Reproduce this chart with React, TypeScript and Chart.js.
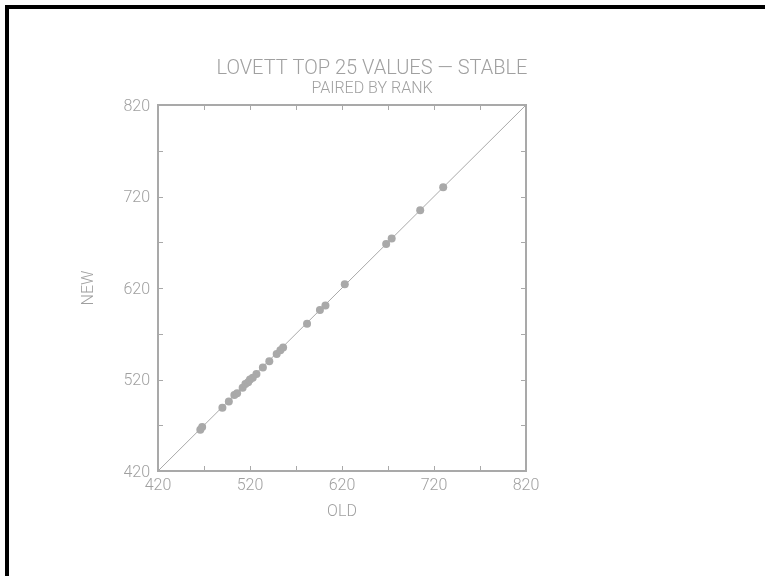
import React, { useEffect, useRef } from 'react';
import { Chart, registerables } from 'chart.js';

Chart.register(...registerables);

const titleText = 'LOVETT TOP 25 VALUES — STABLE';
const subtitleText = 'PAIRED BY RANK';
const xAxisTitle = 'OLD';
const yAxisTitle = 'NEW';
const axisMin = 420;
const axisMax = 820;
const tickStep = 50;
const labelStep = 100;

const oldValues = [466, 468, 490, 497, 503, 506, 512, 515, 518, 520, 523, 527, 534, 541, 549, 553, 556, 582, 596, 602, 623, 668, 674, 705, 730];
const newValues = [465, 468, 489, 496, 503, 505, 511, 515, 517, 520, 522, 526, 533, 540, 548, 552, 555, 581, 596, 601, 624, 668, 674, 705, 730];
const refLine = [420, 820];

const GRAY = '#a9a9a9';
const TEXT = '#a0a0a0';
const FAMILY = 'Roboto';

const boxTicks = {
  id: 'boxTicks',
  afterDatasetsDraw(chart: any) {
    const { ctx, chartArea: a, scales } = chart;
    const xs = scales.x;
    const ys = scales.y;
    const L = 5;
    ctx.save();
    ctx.strokeStyle = GRAY;
    ctx.lineWidth = 1;
    const seg = (x1: number, y1: number, x2: number, y2: number) => {
      ctx.beginPath();
      ctx.moveTo(x1, y1);
      ctx.lineTo(x2, y2);
      ctx.stroke();
    };
    xs.ticks.forEach((t: any) => {
      const px = Math.round(xs.getPixelForValue(t.value)) + 0.5;
      seg(px, a.bottom, px, a.bottom - L);
      seg(px, a.top, px, a.top + L);
    });
    ys.ticks.forEach((t: any) => {
      const py = Math.round(ys.getPixelForValue(t.value)) + 0.5;
      seg(a.left, py, a.left + L, py);
      seg(a.right, py, a.right - L, py);
    });
    ctx.lineWidth = 2;
    ctx.strokeRect(a.left, a.top, a.right - a.left, a.bottom - a.top);
    ctx.restore();
  },
};

const tickLabel = (v: any) => ((Number(v) - axisMin) % labelStep === 0 ? String(v) : '');

export default function App() {
  const ref = useRef<HTMLCanvasElement>(null);
  useEffect(() => {
    if (!ref.current) return;
    const font = { family: FAMILY, weight: '300' as any, size: 16 };
    const chart = new Chart(ref.current, {
      type: 'scatter',
      data: {
        datasets: [
          {
            type: 'line',
            data: refLine.map((v) => ({ x: v, y: v })),
            borderColor: GRAY,
            borderWidth: 1,
            pointRadius: 0,
            fill: false,
          } as any,
          {
            type: 'scatter',
            data: oldValues.map((v, i) => ({ x: v, y: newValues[i] })),
            backgroundColor: GRAY,
            borderWidth: 0,
            pointRadius: 4,
          },
        ],
      },
      options: {
        responsive: false,
        animation: false,
        layout: { padding: { left: 0, right: 21, top: 0, bottom: 0 } },
        plugins: {
          legend: { display: false },
          tooltip: { enabled: false },
          title: {
            display: true,
            text: titleText,
            color: TEXT,
            font: { family: FAMILY, weight: '300' as any, size: 20, lineHeight: 1 },
            padding: { top: 59, bottom: 0 },
          },
          subtitle: {
            display: true,
            text: subtitleText,
            color: TEXT,
            font: { family: FAMILY, weight: '300' as any, size: 16, lineHeight: 1.2 },
            padding: { top: 0, bottom: 6.8 },
          },
        },
        scales: {
          x: {
            type: 'linear',
            position: 'bottom',
            min: axisMin,
            max: axisMax,
            ticks: { stepSize: tickStep, autoSkip: false, maxRotation: 0, padding: 5, color: TEXT, font, callback: tickLabel },
            grid: { display: false, drawTicks: false },
            border: { display: false },
            title: { display: true, text: xAxisTitle, color: TEXT, font, padding: { top: 0, bottom: 54 } },
            afterFit: (s: any) => { s.height = 105; },
          },
          y: {
            type: 'linear',
            position: 'left',
            min: axisMin,
            max: axisMax,
            ticks: { stepSize: tickStep, autoSkip: false, padding: 8, labelOffset: 1.5, color: TEXT, font, callback: tickLabel },
            grid: { display: false, drawTicks: false },
            border: { display: false },
            title: { display: true, text: yAxisTitle, color: TEXT, font, padding: { top: 79, bottom: 0 } },
            afterFit: (s: any) => { s.width = 158; },
          },
          y2: {
            type: 'linear',
            position: 'right',
            display: true,
            ticks: { display: false },
            grid: { display: false, drawTicks: false },
            border: { display: false },
            afterFit: (s: any) => { s.width = 218; },
          },
        },
      } as any,
      plugins: [boxTicks],
    });
    return () => chart.destroy();
  }, []);

  return (
    <div>
      <canvas
        ref={ref}
        width={765}
        height={576}
        style={{ position: 'fixed', left: 0, top: 0, width: 765, height: 576, display: 'block', background: '#fff' }}
      />
      <div style={{ position: 'fixed', left: 5, top: 5, width: 760, height: 4, background: '#000' }} />
      <div style={{ position: 'fixed', left: 5, top: 5, width: 4, height: 571, background: '#000' }} />
    </div>
  );
}
